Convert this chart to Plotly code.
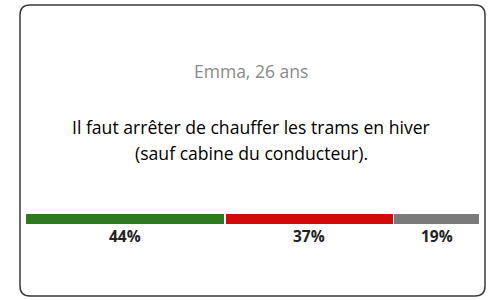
import plotly.graph_objects as go

categories = ["Pour", "Contre", "Sans avis"]
values = [44, 37, 19]
colors = ["#2f7a1f", "#d20a0a", "#7a7a7a"]
author = "Emma, 26 ans"
statement_lines = ["Il faut arrêter de chauffer les trams en hiver",
                   "(sauf cabine du conducteur)."]

W, H = 488, 300
fig = go.Figure()
for c, v, col in zip(categories, values, colors):
    fig.add_trace(go.Bar(
        y=["q"], x=[v], orientation="h", name=c,
        marker=dict(color=col, line=dict(color="white", width=1.5)),
        width=1, hoverinfo="skip", showlegend=False,
    ))

# labels at segment centres
cum = 0
for v in values:
    fig.add_annotation(x=cum + v / 2, y=1 - 236 / H, xref="x", yref="paper",
                       text=f"{v}%", showarrow=False, yanchor="middle",
                       font=dict(family="Open Sans", size=15.5, color="#222222", weight="bold"))
    cum += v

fig.add_annotation(x=251 / W, y=1 - 71 / H, xref="paper", yref="paper", text=author,
                   showarrow=False, yanchor="middle",
                   font=dict(family="Open Sans", size=17.5, color="#8a8a8a"))
for i, line in enumerate(statement_lines):
    fig.add_annotation(x=251 / W, y=1 - (127 + 26 * i) / H, xref="paper", yref="paper",
                       text=line, showarrow=False, yanchor="middle",
                       font=dict(family="Open Sans", size=17.6, color="#000000"))

# card border (pixel -> paper)
x0, x1, y0, y1, r = 20, 485, 5, 296, 10
def px(x): return x / W
def py(y): return 1 - y / H
path = (f"M {px(x0 + r)} {py(y0)} L {px(x1 - r)} {py(y0)} "
        f"Q {px(x1)} {py(y0)} {px(x1)} {py(y0 + r)} L {px(x1)} {py(y1 - r)} "
        f"Q {px(x1)} {py(y1)} {px(x1 - r)} {py(y1)} L {px(x0 + r)} {py(y1)} "
        f"Q {px(x0)} {py(y1)} {px(x0)} {py(y1 - r)} L {px(x0)} {py(y0 + r)} "
        f"Q {px(x0)} {py(y0)} {px(x0 + r)} {py(y0)} Z")
fig.add_shape(type="path", path=path, xref="paper", yref="paper",
              line=dict(color="#3a3a3a", width=1.5))

fig.update_layout(
    width=W, height=H, margin=dict(l=0, r=0, t=0, b=0),
    barmode="stack", bargap=0,
    plot_bgcolor="white", paper_bgcolor="white",
    xaxis=dict(range=[0, 100], domain=[25 / W, 480 / W], visible=False, fixedrange=True),
    yaxis=dict(domain=[1 - 225 / H, 1 - 213 / H], visible=False, range=[-0.5, 0.5], fixedrange=True),
)
fig.write_html("out.html", config={"displayModeBar": False, "staticPlot": True},
               post_script="document.body.style.margin='0';document.body.style.overflow='hidden';")
